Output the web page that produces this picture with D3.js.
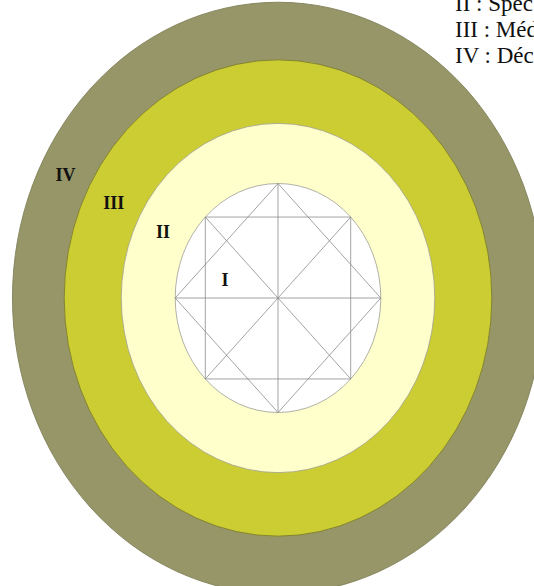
<!DOCTYPE html>
<html>
<head>
<meta charset="utf-8">
<script src="https://cdn.jsdelivr.net/npm/d3@7"></script>
<style>
  body { margin: 0; background: #fff; }
  svg { display: block; }
</style>
</head>
<body>
<div id="chart"></div>
<script>
// rings from the centre out, radius in units of ring I
const levels = ['I', 'II', 'III', 'IV'];
const ringRadius = [1, 1.525, 2.08, 2.583];
const legendItems = ['II : Spéc', 'III : Méd', 'IV : Déc'];

const width = 534;
const height = 586;
const cx = 278;
const cy = 298;

// the picture is a bit stretched vertically
const rx = d3.scaleLinear().domain([0, 1]).range([0, 102.8]);
const ry = d3.scaleLinear().domain([0, 1]).range([0, 114.5]);

const fill = d3.scaleOrdinal()
  .domain(levels)
  .range(['#ffffff', '#ffffcc', '#cccc33', '#969668']);
const stroke = d3.scaleOrdinal()
  .domain(levels)
  .range(['#a8a8a0', '#a8a890', '#7d7d30', '#80805a']);

const svg = d3.select('#chart')
  .append('svg')
  .attr('width', width)
  .attr('height', height);

const g = svg.append('g')
  .attr('transform', `translate(${cx},${cy})`);

// biggest first so the smaller ones sit on top
const rings = levels.map((name, i) => ({name, r: ringRadius[i]})).reverse();

g.selectAll('ellipse')
  .data(rings)
  .enter().append('ellipse')
    .attr('rx', d => rx(d.r))
    .attr('ry', d => ry(d.r))
    .attr('fill', d => fill(d.name))
    .attr('stroke', d => stroke(d.name))
    .attr('stroke-width', 0.9);

// star pattern inside ring I: diamond, square, and the spokes
const r0 = ringRadius[0];
const s = Math.SQRT1_2 * r0;
const diamond = [[0, -r0], [r0, 0], [0, r0], [-r0, 0]];
const square = [[-s, -s], [s, -s], [s, s], [-s, s]];
const spokes = [
  [[0, -r0], [0, r0]],
  [[-r0, 0], [r0, 0]],
  [[-s, -s], [s, s]],
  [[s, -s], [-s, s]]
];

const line = d3.line().x(d => rx(d[0])).y(d => ry(d[1]));

const pattern = g.append('g')
  .attr('fill', 'none')
  .attr('stroke', '#8c8c8c')
  .attr('stroke-width', 0.8);

pattern.selectAll('.poly')
  .data([diamond, square])
  .enter().append('path')
    .attr('class', 'poly')
    .attr('d', d => line(d) + 'Z');

pattern.selectAll('.spoke')
  .data(spokes)
  .enter().append('path')
    .attr('class', 'spoke')
    .attr('d', line);

// roman numerals, halfway through each ring
function labelPos(i) {
  const mid = i === 0 ? 0.54 : (ringRadius[i] + ringRadius[i - 1]) / 2;
  const a = (i === 0 ? 17 : 27.5) * Math.PI / 180;
  return [-rx(mid * Math.cos(a)), -ry(mid * Math.sin(a))];
}

g.selectAll('.num')
  .data(levels)
  .enter().append('text')
    .attr('class', 'num')
    .attr('x', (d, i) => labelPos(i)[0])
    .attr('y', (d, i) => labelPos(i)[1])
    .attr('dy', '0.35em')
    .attr('text-anchor', 'middle')
    .style('font', 'bold 18px "Liberation Serif", "DejaVu Serif", serif')
    .style('fill', '#111')
    .text(d => d);

// legend, cut by the right edge like in the source
svg.append('g')
  .selectAll('text')
  .data(legendItems)
  .enter().append('text')
    .attr('x', 455)
    .attr('y', (d, i) => 11 + i * 26)
    .style('font', '23px "Liberation Serif", "DejaVu Serif", serif')
    .style('fill', '#111')
    .text(d => d);
</script>
</body>
</html>
